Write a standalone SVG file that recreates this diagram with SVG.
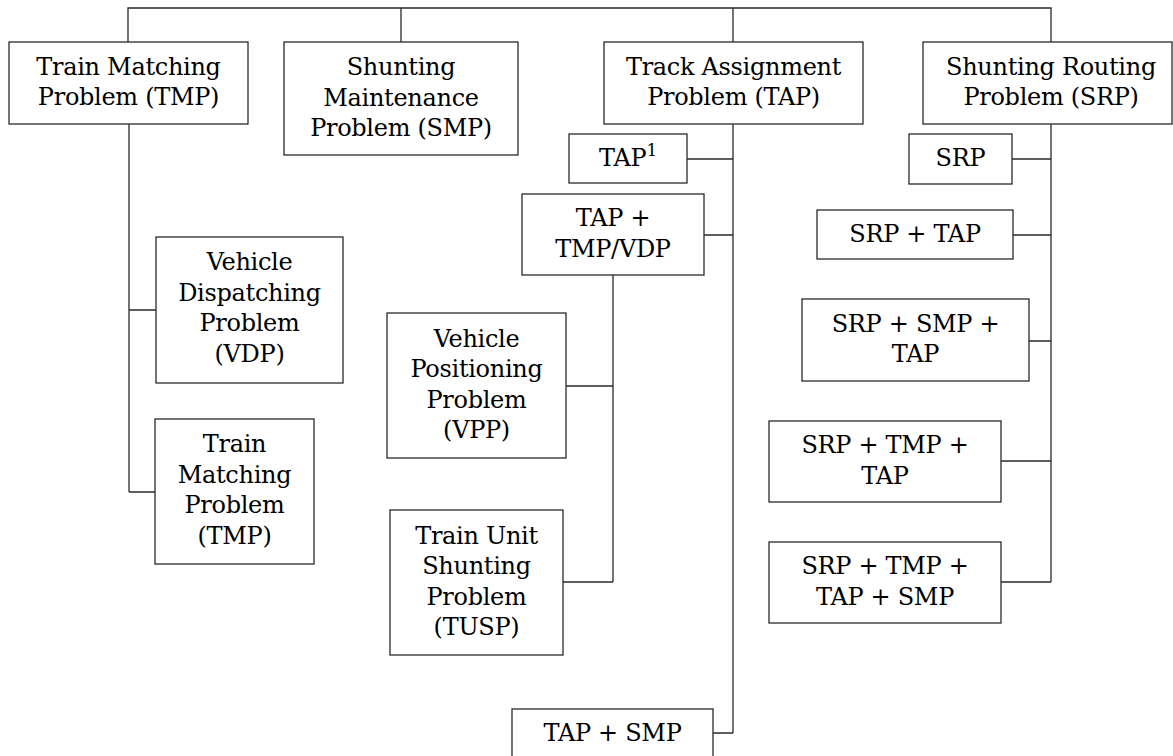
<svg xmlns="http://www.w3.org/2000/svg" width="1173" height="756" viewBox="0 0 1173 756">
<style>
.box{fill:#fff;stroke:#2a2a2a;stroke-width:1.3}
.ln{fill:none;stroke:#2a2a2a;stroke-width:1.3}
.t{font-family:"DejaVu Serif",serif;font-size:24px;fill:#000;text-anchor:middle;letter-spacing:-0.3px}
</style>
<rect width="1173" height="756" fill="#fff"/>
<g id="connectors">
<path class="ln" d="M128,42 V8 H1051 V42 M401,8 V42 M733,8 V42"/>
<path class="ln" d="M129,124 V492 M129,310 H156 M129,492 H155"/>
<path class="ln" d="M733,124 V733 M687,159 H733 M704,235 H733 M713,733 H733"/>
<path class="ln" d="M613,275 V582 M566,386 H613 M563,582 H613"/>
<path class="ln" d="M1051,124 V582 M1012,159 H1051 M1013,235 H1051 M1029,341 H1051 M1001,461 H1051 M1001,582 H1051"/>
</g>
<g class="t">
<g id="tmp">
<rect class="box" x="9" y="42" width="239" height="82"/>
<text x="128.5" y="74.75">Train Matching</text>
<text x="128.5" y="105.25">Problem (TMP)</text>
</g>
<g id="smp">
<rect class="box" x="284" y="42" width="234" height="113"/>
<text x="401" y="75">Shunting</text>
<text x="401" y="105.5">Maintenance</text>
<text x="401" y="136">Problem (SMP)</text>
</g>
<g id="tap">
<rect class="box" x="604" y="42" width="259" height="82"/>
<text x="733.5" y="74.75">Track Assignment</text>
<text x="733.5" y="105.25">Problem (TAP)</text>
</g>
<g id="srp">
<rect class="box" x="923" y="42" width="249" height="82"/>
<text x="1051" y="74.75">Shunting Routing</text>
<text x="1051" y="105.25">Problem (SRP)</text>
</g>
<g id="tap1">
<rect class="box" x="569" y="134" width="118" height="49"/>
<text x="628" y="166">TAP<tspan font-size="17" dy="-10">1</tspan></text>
</g>
<g id="tap-tmp-vdp">
<rect class="box" x="522" y="194" width="182" height="81"/>
<text x="613" y="226">TAP +</text>
<text x="613" y="256.5">TMP/VDP</text>
</g>
<g id="vdp">
<rect class="box" x="156" y="237" width="187" height="146"/>
<text x="249.5" y="270">Vehicle</text>
<text x="249.5" y="300.5">Dispatching</text>
<text x="249.5" y="331">Problem</text>
<text x="249.5" y="361.5">(VDP)</text>
</g>
<g id="tmp2">
<rect class="box" x="155" y="419" width="159" height="145"/>
<text x="234.5" y="452">Train</text>
<text x="234.5" y="482.5">Matching</text>
<text x="234.5" y="513">Problem</text>
<text x="234.5" y="543.5">(TMP)</text>
</g>
<g id="vpp">
<rect class="box" x="387" y="313" width="179" height="145"/>
<text x="476.5" y="346.5">Vehicle</text>
<text x="476.5" y="377">Positioning</text>
<text x="476.5" y="407.5">Problem</text>
<text x="476.5" y="438">(VPP)</text>
</g>
<g id="tusp">
<rect class="box" x="390" y="510" width="173" height="145"/>
<text x="476.5" y="543.5">Train Unit</text>
<text x="476.5" y="574">Shunting</text>
<text x="476.5" y="604.5">Problem</text>
<text x="476.5" y="635">(TUSP)</text>
</g>
<g id="tap-smp">
<rect class="box" x="512" y="709" width="201" height="49"/>
<text x="612.5" y="741">TAP + SMP</text>
</g>
<g id="srp-only">
<rect class="box" x="909" y="134" width="103" height="50"/>
<text x="960.5" y="166">SRP</text>
</g>
<g id="srp-tap">
<rect class="box" x="817" y="210" width="196" height="49"/>
<text x="915" y="241.5">SRP + TAP</text>
</g>
<g id="srp-smp-tap">
<rect class="box" x="802" y="299" width="227" height="82"/>
<text x="915.5" y="331.5">SRP + SMP +</text>
<text x="915.5" y="362">TAP</text>
</g>
<g id="srp-tmp-tap">
<rect class="box" x="769" y="421" width="232" height="81"/>
<text x="885" y="453">SRP + TMP +</text>
<text x="885" y="483.5">TAP</text>
</g>
<g id="srp-tmp-tap-smp">
<rect class="box" x="769" y="542" width="232" height="81"/>
<text x="885" y="574">SRP + TMP +</text>
<text x="885" y="604.5">TAP + SMP</text>
</g>
</g>
</svg>
